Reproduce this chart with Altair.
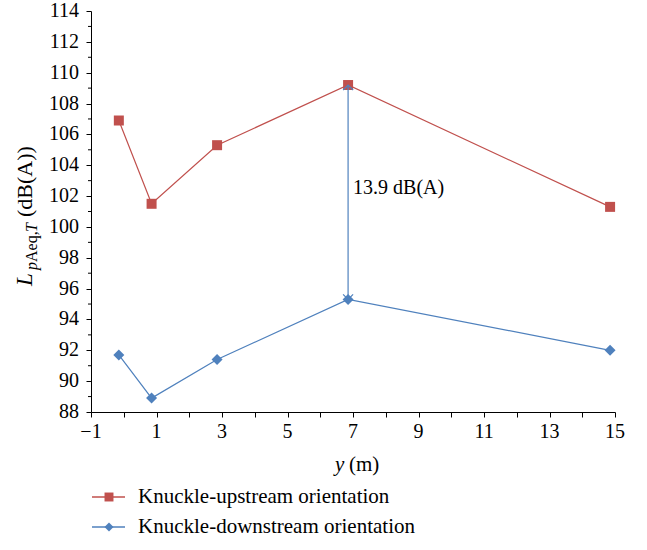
import altair as alt
import pandas as pd

# ---- data ----
positions = [-0.15, 0.85, 2.85, 6.85, 14.85]
upstream = [106.9, 101.5, 105.3, 109.2, 101.3]
downstream = [91.7, 88.9, 91.4, 95.3, 92.0]
series_names = ["Knuckle-upstream orientation", "Knuckle-downstream orientation"]
colors = ["#C0504D", "#4F81BD"]
x_ticks = list(range(-1, 16))
x_label_values = [-1, 1, 3, 5, 7, 9, 11, 13, 15]
x_label_texts = ["\u22121", "1", "3", "5", "7", "9", "11", "13", "15"]
y_major = list(range(88, 115, 2))
y_label_texts = [str(v) for v in y_major]
y_minor = list(range(89, 114, 2))
peak_index = 3
diff_label = "13.9 dB(A)"

FONT = "Liberation Serif"
RED, BLUE = colors

df = pd.DataFrame({
    "pos": positions * 2,
    "L": upstream + downstream,
    "series": [series_names[0]] * len(positions) + [series_names[1]] * len(positions),
})
ann = pd.DataFrame({
    "pos": [positions[peak_index]],
    "low": [downstream[peak_index]],
    "high": [upstream[peak_index]],
    "label": [diff_label],
})
minor_df = pd.DataFrame({"v": y_minor})
xlab_df = pd.DataFrame({"pos": x_label_values, "lab": x_label_texts})
ylab_df = pd.DataFrame({"v": y_major, "lab": y_label_texts})

xs = alt.Scale(domain=[-1, 15], nice=False, zero=False)
ys = alt.Scale(domain=[88, 114], nice=False, zero=False)
cs = alt.Scale(domain=series_names, range=colors)

x_axis = alt.Axis(values=x_ticks, labels=False, title=None, grid=False, tickSize=5,
                  domainColor="black", tickColor="black")
y_axis = alt.Axis(values=y_major, labels=False, title=None, grid=False, tickSize=5,
                  domainColor="black", tickColor="black")


def X(field="pos"):
    return alt.X(f"{field}:Q", scale=xs, axis=x_axis)


def Y(field="L"):
    return alt.Y(f"{field}:Q", scale=ys, axis=y_axis)


lines = alt.Chart(df).mark_line(strokeWidth=1.2).encode(
    x=X(), y=Y(), color=alt.Color("series:N", scale=cs, legend=None),
)
minor = alt.Chart(minor_df).mark_rule(color="black", strokeWidth=1).encode(
    x=alt.value(-3), x2=alt.value(0), y=Y("v"))
xlabels = alt.Chart(xlab_df).mark_text(font=FONT, fontSize=20, color="black", align="center",
                                       baseline="middle").encode(
    x=X(), y=alt.value(421), text="lab:N")
ylabels = alt.Chart(ylab_df).mark_text(font=FONT, fontSize=20, color="black", align="right",
                                       baseline="middle").encode(
    x=alt.value(-12), y=Y("v"), text="lab:N")
pts_up = alt.Chart(df).transform_filter(alt.datum.series == series_names[0]).mark_point(
    shape="square", filled=True, size=100, color=RED, opacity=1).encode(x=X(), y=Y())
pts_dn = alt.Chart(df).transform_filter(alt.datum.series == series_names[1]).mark_point(
    shape="diamond", filled=True, size=121, color=BLUE, opacity=1).encode(x=X(), y=Y())

rule = alt.Chart(ann).mark_rule(color=BLUE, strokeWidth=1.2).encode(
    x=X(), y=Y("low"), y2="high:Q")
head_up = alt.Chart(ann).mark_point(shape="M-1,1L0,0L1,1", size=100, filled=False,
                                    color=BLUE, strokeWidth=1.2, opacity=1).encode(
    x=X(), y=Y("high"))
head_dn = alt.Chart(ann).mark_point(shape="M-1,-1L0,0L1,-1", size=100, filled=False,
                                    color=BLUE, strokeWidth=1.2, opacity=1).encode(
    x=X(), y=Y("low"))
diff_text = alt.Chart(ann).transform_calculate(mid="(datum.low + datum.high) / 2").mark_text(
    align="left", baseline="middle", dx=5, dy=-4, font=FONT, fontSize=20, color="black").encode(
    x=X(), y=Y("mid"), text="label:N")

# ---- axis titles (rich text pieces) ----
lbl = pd.DataFrame({"t": ["L", "p", "Aeq,", "T", "(dB(A))", "y", "(m)"]})


def piece(i, **kw):
    return alt.Chart(lbl).transform_filter(alt.datum.t == lbl["t"][i]).mark_text(
        font=FONT, color="black", **kw).encode(text="t:N")


ROT = dict(angle=270, align="left", baseline="alphabetic")
yt_L = piece(0, fontSize=23, fontStyle="italic", **ROT).encode(x=alt.value(-59), y=alt.value(275))
yt_p = piece(1, fontSize=16, fontStyle="italic", **ROT).encode(x=alt.value(-54), y=alt.value(259))
yt_a = piece(2, fontSize=16, **ROT).encode(x=alt.value(-54), y=alt.value(251))
yt_t = piece(3, fontSize=16, fontStyle="italic", **ROT).encode(x=alt.value(-54), y=alt.value(221))
yt_u = piece(4, fontSize=22, **ROT).encode(x=alt.value(-59), y=alt.value(206))
xt_y = piece(5, align="left", baseline="middle", fontSize=21, fontStyle="italic").encode(
    x=alt.value(244), y=alt.value(454))
xt_m = piece(6, align="left", baseline="middle", fontSize=21).encode(
    x=alt.value(258), y=alt.value(454))

# ---- legend ----
leg_layers = []
for i, (name, col, shp, sz) in enumerate(zip(series_names, colors, ["square", "diamond"], [80, 80])):
    yy = 486 + 30 * i
    ldf = pd.DataFrame({"series": [name]})
    leg_layers.append(alt.Chart(ldf).mark_rule(color=col, strokeWidth=1.5).encode(
        x=alt.value(1), x2=alt.value(34), y=alt.value(yy)))
    leg_layers.append(alt.Chart(ldf).mark_point(shape=shp, filled=True, size=sz, color=col,
                                                opacity=1).encode(x=alt.value(18), y=alt.value(yy)))
    leg_layers.append(alt.Chart(ldf).mark_text(align="left", baseline="middle", font=FONT,
                                               fontSize=21, color="black").encode(
        x=alt.value(47), y=alt.value(yy), text="series:N"))

chart = alt.layer(
    lines, minor, xlabels, ylabels, pts_up, pts_dn, rule, head_up, head_dn, diff_text,
    yt_L, yt_p, yt_a, yt_t, yt_u, xt_y, xt_m, *leg_layers
).properties(
    width=524, height=401,
    padding={"left": 91, "top": 11, "right": 32, "bottom": 138},
    autosize=alt.AutoSizeParams(type="none"),
).configure(background="white", font=FONT).configure_view(stroke=None)

chart.save("out.html", embed_options={"renderer": "svg", "actions": False})
